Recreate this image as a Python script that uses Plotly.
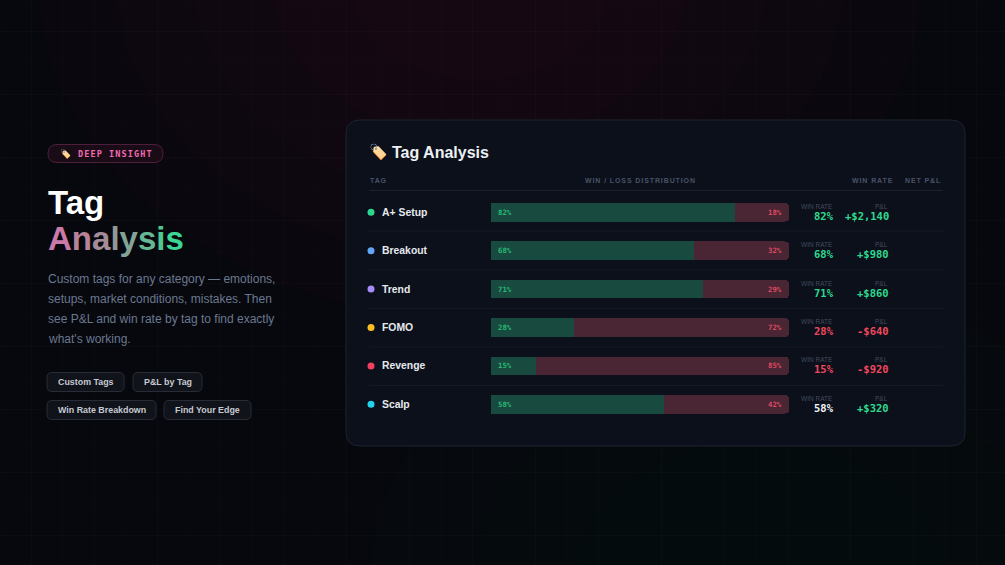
import plotly.graph_objects as go

W, H = 1005, 565

# --- data ---
TAGS = ["A+ Setup", "Breakout", "Trend", "FOMO", "Revenge", "Scalp"]
WIN_PCT = [82, 68, 71, 28, 15, 58]
LOSS_PCT = [18, 32, 29, 72, 85, 42]
NET_PNL = [2140, 980, 860, -640, -920, 320]
TAG_COLORS = ["#2dd68f", "#60a5fa", "#a78bfa", "#fbbf24", "#f43f5e", "#22d3ee"]
CHIPS = ["Custom Tags", "P&L by Tag", "Win Rate Breakdown", "Find Your Edge"]
DESCRIPTION = [
    "Custom tags for any category — emotions,",
    "setups, market conditions, mistakes. Then",
    "see P&L and win rate by tag to find exactly",
    "what's working.",
]

SANS = "Liberation Sans, Arial, sans-serif"
MONO = "DejaVu Sans Mono, monospace"
GREEN = "#2fd98f"
RED = "#f0475f"
MUTED = "#4a5366"


def px(x):
    return x / W


def py(y):
    return 1 - y / H


def rrect(x0, y0, x1, y1, r):
    """rounded rectangle path in paper coords, input in pixels"""
    pts = [
        f"M{px(x0 + r)},{py(y0)}",
        f"L{px(x1 - r)},{py(y0)}",
        f"Q{px(x1)},{py(y0)} {px(x1)},{py(y0 + r)}",
        f"L{px(x1)},{py(y1 - r)}",
        f"Q{px(x1)},{py(y1)} {px(x1 - r)},{py(y1)}",
        f"L{px(x0 + r)},{py(y1)}",
        f"Q{px(x0)},{py(y1)} {px(x0)},{py(y1 - r)}",
        f"L{px(x0)},{py(y0 + r)}",
        f"Q{px(x0)},{py(y0)} {px(x0 + r)},{py(y0)}",
        "Z",
    ]
    return " ".join(pts)


def fmt_pnl(v):
    sign = "+" if v >= 0 else "-"
    return f"{sign}${abs(v):,}"


shapes = []
annotations = []

# background glows
for r in [340, 280, 220, 160, 100]:
    shapes.append(dict(type="circle", xref="paper", yref="paper", layer="below",
                       x0=px(480 - r * 1.3), x1=px(480 + r * 1.3), y0=py(-20 + r), y1=py(-20 - r),
                       fillcolor="rgba(120,25,60,0.03)", line_width=0))
for r in [300, 220, 140]:
    shapes.append(dict(type="circle", xref="paper", yref="paper", layer="below",
                       x0=px(760 - r * 1.3), x1=px(760 + r * 1.3), y0=py(580 + r), y1=py(580 - r),
                       fillcolor="rgba(20,110,70,0.02)", line_width=0))

# faint grid
step = 31.5
x = 0.0
while x < W:
    shapes.append(dict(type="line", xref="paper", yref="paper", layer="below",
                       x0=px(x), x1=px(x), y0=0, y1=1,
                       line=dict(color="rgba(255,255,255,0.02)", width=1)))
    x += step
y = 0.0
while y < H:
    shapes.append(dict(type="line", xref="paper", yref="paper", layer="below",
                       x0=0, x1=1, y0=py(y), y1=py(y),
                       line=dict(color="rgba(255,255,255,0.02)", width=1)))
    y += step

# ---- left column ----
shapes.append(dict(type="path", xref="paper", yref="paper", layer="below",
                   path=rrect(48, 144.5, 163, 162.5, 9),
                   fillcolor="#1a0c17", line=dict(color="#4d1f3c", width=1)))
annotations.append(dict(x=px(58), y=py(153.5), xref="paper", yref="paper",
                        xanchor="left", yanchor="middle", showarrow=False,
                        text="🏷️", font=dict(size=9, family=SANS)))
annotations.append(dict(x=px(76), y=py(153.5), xref="paper", yref="paper",
                        xanchor="left", yanchor="middle", showarrow=False,
                        text='<span style="letter-spacing:1.1px">DEEP INSIGHT</span>',
                        font=dict(size=8.5, family=MONO, color="#f06aae", weight="bold")))

annotations.append(dict(x=px(46), y=py(202), xref="paper", yref="paper",
                        xanchor="left", yanchor="middle", showarrow=False,
                        text="<b>Tag</b>", font=dict(size=33, family=SANS, color="#ffffff")))
grad = ["#c97aa8", "#b88399", "#a38c98", "#939796", "#82a496", "#66b794", "#4fc892", "#3dd694"]
word = "".join(f'<span style="color:{c}">{ch}</span>' for ch, c in zip("Analysis", grad))
annotations.append(dict(x=px(46), y=py(238), xref="paper", yref="paper",
                        xanchor="left", yanchor="middle", showarrow=False,
                        text=f"<b>{word}</b>", font=dict(size=33, family=SANS)))

for i, line in enumerate(DESCRIPTION):
    annotations.append(dict(x=px(46), y=py(279 + 20 * i), xref="paper", yref="paper",
                            xanchor="left", yanchor="middle", showarrow=False,
                            text=line.replace("&", "&amp;"),
                            font=dict(size=12, family=SANS, color="#6a7890")))

chip_boxes = [(47, 372.5, 124, 391.5), (133, 372.5, 202, 391.5),
              (47, 400.5, 156, 419.5), (164, 400.5, 251, 419.5)]
for label, (x0, y0, x1, y1) in zip(CHIPS, chip_boxes):
    shapes.append(dict(type="path", xref="paper", yref="paper", layer="below",
                       path=rrect(x0, y0, x1, y1, 5),
                       fillcolor="#10131a", line=dict(color="#272c36", width=1)))
    annotations.append(dict(x=px((x0 + x1) / 2), y=py((y0 + y1) / 2), xref="paper", yref="paper",
                            xanchor="center", yanchor="middle", showarrow=False,
                            text=f"<b>{label.replace('&', '&amp;')}</b>",
                            font=dict(size=8.9, family=SANS, color="#c6cad2")))

# ---- card ----
shapes.append(dict(type="path", xref="paper", yref="paper", layer="below",
                   path=rrect(346, 120, 965, 446, 14),
                   fillcolor="#0b101b", line=dict(color="#1c2231", width=1)))
annotations.append(dict(x=px(367), y=py(152), xref="paper", yref="paper",
                        xanchor="left", yanchor="middle", showarrow=False,
                        text="🏷️", font=dict(size=15, family=SANS)))
annotations.append(dict(x=px(390), y=py(152), xref="paper", yref="paper",
                        xanchor="left", yanchor="middle", showarrow=False,
                        text="<b>Tag Analysis</b>", font=dict(size=16, family=SANS, color="#eef0f5")))

hdr_font = dict(size=7, family=SANS, color=MUTED, weight="bold")
for txt, xx, anc in [("TAG", 368, "left"), ("WIN / LOSS DISTRIBUTION", 640, "center"),
                     ("WIN RATE", 895, "right"), ("NET P&amp;L", 943, "right")]:
    annotations.append(dict(x=px(xx), y=py(180), xref="paper", yref="paper",
                            xanchor=anc, yanchor="middle", showarrow=False,
                            text=f'<span style="letter-spacing:0.9px">{txt}</span>', font=hdr_font))
shapes.append(dict(type="line", xref="paper", yref="paper", layer="below",
                   x0=px(369), x1=px(943), y0=py(190.5), y1=py(190.5),
                   line=dict(color="#1a2030", width=1)))
for sep in [231, 270, 308.5, 347, 385.5]:
    shapes.append(dict(type="line", xref="paper", yref="paper", layer="below",
                       x0=px(369), x1=px(943), y0=py(sep), y1=py(sep),
                       line=dict(color="#131927", width=1)))

fig = go.Figure()

fig.add_trace(go.Bar(
    y=TAGS, x=WIN_PCT, orientation="h", width=0.48,
    marker=dict(color="#184a3f", line_width=0), hoverinfo="skip",
))
fig.add_trace(go.Bar(
    y=TAGS, x=LOSS_PCT, orientation="h", width=0.48,
    marker=dict(color="#4a2533", line_width=0), hoverinfo="skip",
))
# tag dots on a pixel-scaled axis spanning the whole width
fig.add_trace(go.Scatter(
    x=[371] * len(TAGS), y=TAGS, xaxis="x2", yaxis="y", mode="markers",
    marker=dict(size=7, color=TAG_COLORS), hoverinfo="skip",
))

for tag, w, l, pnl in zip(TAGS, WIN_PCT, LOSS_PCT, NET_PNL):
    annotations.append(dict(x=0, y=tag, xref="x", yref="y", xanchor="left", yanchor="middle",
                            xshift=5, showarrow=False, text=f"<b>{w}%</b>",
                            font=dict(size=7.3, family=MONO, color="#27b877")))
    annotations.append(dict(x=100, y=tag, xref="x", yref="y", xanchor="right", yanchor="middle",
                            xshift=-5, showarrow=False, text=f"<b>{l}%</b>",
                            font=dict(size=7.3, family=MONO, color="#dc4a62")))
    annotations.append(dict(x=px(380), y=tag, xref="paper", yref="y", xanchor="left", yanchor="middle",
                            showarrow=False, text=f"<b>{tag}</b>",
                            font=dict(size=10.4, family=SANS, color="#e6e8ee")))
    if w >= 60:
        wc = GREEN
    elif w >= 50:
        wc = "#f1f3f7"
    else:
        wc = RED
    annotations.append(dict(x=px(835), y=tag, xref="paper", yref="y", xanchor="right", yanchor="middle",
                            yshift=6, showarrow=False, text="WIN RATE",
                            font=dict(size=6.5, family=SANS, color="#434b5c")))
    annotations.append(dict(x=px(835.5), y=tag, xref="paper", yref="y", xanchor="right", yanchor="middle",
                            yshift=-3.5, showarrow=False, text=f"<b>{w}%</b>",
                            font=dict(size=10.5, family=MONO, color=wc)))
    annotations.append(dict(x=px(890), y=tag, xref="paper", yref="y", xanchor="right", yanchor="middle",
                            yshift=6, showarrow=False, text="P&amp;L",
                            font=dict(size=6.5, family=SANS, color="#434b5c")))
    annotations.append(dict(x=px(890.5), y=tag, xref="paper", yref="y", xanchor="right", yanchor="middle",
                            yshift=-3.5, showarrow=False, text=f"<b>{fmt_pnl(pnl)}</b>",
                            font=dict(size=10.5, family=MONO, color=GREEN if pnl >= 0 else RED)))

fig.update_layout(
    width=W, height=H,
    margin=dict(l=0, r=0, t=0, b=0),
    paper_bgcolor="#07080d",
    plot_bgcolor="rgba(0,0,0,0)",
    barmode="stack",
    barcornerradius=4,
    showlegend=False,
    shapes=shapes,
    annotations=annotations,
    xaxis=dict(domain=[px(491), px(789)], range=[0, 100], visible=False, fixedrange=True),
    xaxis2=dict(domain=[0, 1], range=[0, W], anchor="y", visible=False),
    yaxis=dict(domain=[py(423.5), py(193.1)], range=[5.5, -0.5], type="category",
               categoryorder="array", categoryarray=TAGS, visible=False),
)

fig.write_html("out.html", config={"displayModeBar": False},
               post_script="document.body.style.margin='0';document.body.style.background='#07080d';")
